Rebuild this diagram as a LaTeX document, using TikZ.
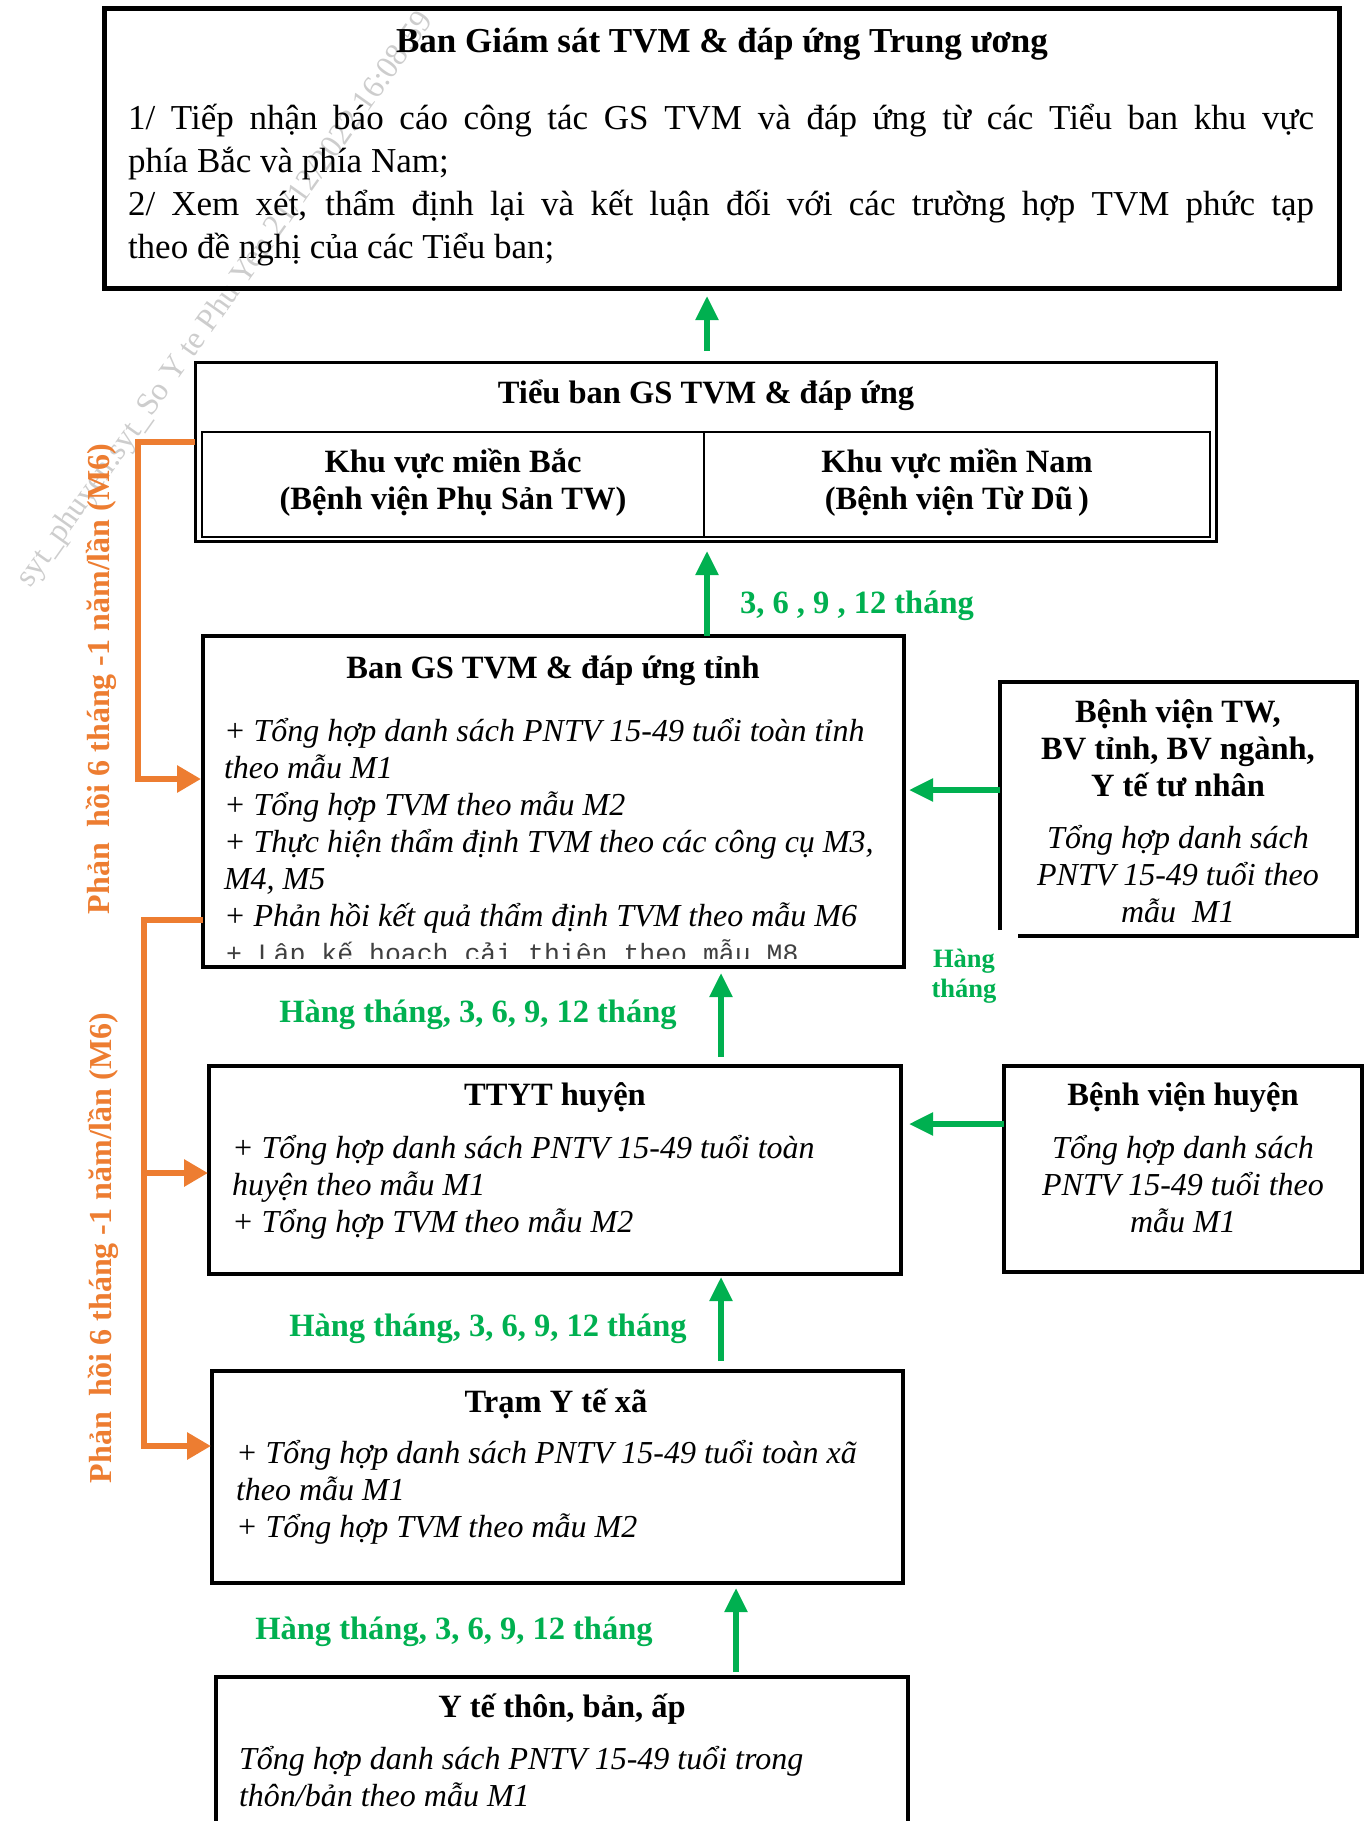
\documentclass[tikz,border=0pt]{standalone}
\usepackage{fontspec}
\setmainfont{Liberation Serif}
\newfontfamily\codefont{Liberation Mono}
\usetikzlibrary{arrows.meta}
\definecolor{flowgreen}{RGB}{0,176,80}
\definecolor{backorange}{RGB}{237,125,49}
\definecolor{markgray}{RGB}{205,205,205}
\newcommand\sizeTop{\fontsize{35}{43}\selectfont}
\newcommand\sizeBody{\fontsize{32.5}{37}\selectfont}
\newcommand\sizeItem{\fontsize{32}{37}\selectfont}
\newcommand\sizeSmall{\fontsize{26.5}{30}\selectfont}

\begin{document}
\begin{tikzpicture}[x=1pt,y=-1pt,
  frame/.style={draw=black, line width=3.5pt, inner sep=0pt, outer sep=0pt, anchor=north west},
  txt/.style={inner sep=0pt, outer sep=0pt},
  head/.style={txt, font=\sizeBody\bfseries, anchor=base},
  items/.style={txt, font=\sizeItem\itshape, anchor=base west, align=left},
  centred/.style={txt, font=\sizeItem\itshape, anchor=base, align=center},
  upflow/.style={draw=flowgreen, line width=5.5pt, -{Triangle[width=22pt,length=24pt]}},
  backflow/.style={draw=backorange, line width=6.5pt, line join=miter, -{Triangle[width=26pt,length=24pt]}},
  greenlbl/.style={txt, font=\sizeBody\bfseries, text=flowgreen, anchor=base},
  orangelbl/.style={txt, font=\fontsize{32}{37}\selectfont\bfseries, text=backorange, rotate=90}
]
\useasboundingbox (0,0) rectangle (1370,1821);
% multi-line texts are placed by the baseline of their last line

% document stamp
\node[txt, rotate=54.6, text=markgray, font=\fontsize{32}{32}\selectfont] (stamp) at (226,300)
  {syt\_phuyen.syt\_So Y te Phu Yen 21/12/2022 16:08:59};

% central board
\node[frame, line width=5pt, minimum width=1235pt, minimum height=280pt] (top) at (104,8) {};
\node[head, font=\sizeTop\bfseries] (topT) at (722,52) {Ban Giám sát TVM \& đáp ứng Trung ương};
\node[txt, font=\sizeTop, anchor=base west, align=left] (topL) at (128,258)
  {\makebox[1186pt][s]{1/ Tiếp nhận báo cáo công tác GS TVM và đáp ứng từ các Tiểu ban khu vực}\\
   phía Bắc và phía Nam;\\
   \makebox[1186pt][s]{2/ Xem xét, thẩm định lại và kết luận đối với các trường hợp TVM phức tạp}\\
   theo đề nghị của các Tiểu ban;};

% sub-committee with two regions
\node[frame, line width=3pt, minimum width=1021pt, minimum height=179pt] (tb) at (195,362) {};
\node[frame, line width=2.5pt, minimum width=1008pt, minimum height=105pt] (tbIn) at (202,432) {};
\coordinate (split) at (704,432);
\draw[line width=2pt] (split) -- (split |- tbIn.south);
\node[head] (tbT) at (706,403) {Tiểu ban GS TVM \& đáp ứng};
\node[head, align=center] (bac) at (453,509) {Khu vực miền Bắc\\(Bệnh viện Phụ Sản TW)};
\node[head, align=center] (nam) at (957,509) {Khu vực miền Nam\\(Bệnh viện Từ Dũ\,)};

% provincial board
\node[frame, minimum width=701pt, minimum height=331pt] (tinh) at (203,636) {};
\node[head] (tinhT) at (553,678) {Ban GS TVM \& đáp ứng tỉnh};
\node[items] (tinhL) at (224,926)
  {+ Tổng hợp danh sách PNTV 15-49 tuổi toàn tỉnh\\
   theo mẫu M1\\
   + Tổng hợp TVM theo mẫu M2\\
   + Thực hiện thẩm định TVM theo các công cụ M3,\\
   M4, M5\\
   + Phản hồi kết quả thẩm định TVM theo mẫu M6};
\begin{scope}
  \clip (206,930) rectangle (900,958);
  \node[txt, anchor=base west, font=\codefont\sizeSmall, text=black!75] (m8) at (226,962)
    {+ Lập kế hoạch cải thiện theo mẫu M8};
\end{scope}

% central / provincial hospitals
\node[frame, draw=none, minimum width=357pt, minimum height=254pt] (bvtw) at (1000,682) {};
\draw[line width=3.5pt] ([yshift=6pt]bvtw.south west) -- (bvtw.north west) -- (bvtw.north east)
  -- (bvtw.south east) -- ([xshift=18pt]bvtw.south west);
\node[head, align=center] (bvtwT) at (1178,796) {Bệnh viện TW,\\BV tỉnh, BV ngành,\\Y tế tư nhân};
\node[centred] (bvtwL) at (1178,922) {Tổng hợp danh sách\\PNTV 15-49 tuổi theo\\mẫu~ M1};

% district health centre
\node[frame, minimum width=692pt, minimum height=208pt] (ttyt) at (209,1066) {};
\node[head] (ttytT) at (555,1105) {TTYT huyện};
\node[items] (ttytL) at (232,1232)
  {+ Tổng hợp danh sách PNTV 15-49 tuổi toàn\\
   huyện theo mẫu M1\\
   + Tổng hợp TVM theo mẫu M2};

% district hospital
\node[frame, minimum width=358pt, minimum height=206pt] (bvh) at (1004,1066) {};
\node[head] (bvhT) at (1183,1105) {Bệnh viện huyện};
\node[centred] (bvhL) at (1183,1232) {Tổng hợp danh sách\\PNTV 15-49 tuổi theo\\mẫu M1};

% commune station
\node[frame, minimum width=691pt, minimum height=212pt] (tram) at (212,1371) {};
\node[head] (tramT) at (556,1412) {Trạm Y tế xã};
\node[items] (tramL) at (236,1537)
  {+ Tổng hợp danh sách PNTV 15-49 tuổi toàn xã\\
   theo mẫu M1\\
   + Tổng hợp TVM theo mẫu M2};

% village health workers
\node[frame, minimum width=692pt, minimum height=200pt] (thon) at (216,1677) {};
\node[head] (thonT) at (562,1717) {Y tế thôn, bản, ấp};
\node[items] (thonL) at (239,1806)
  {Tổng hợp danh sách PNTV 15-49 tuổi trong\\
   thôn/bản theo mẫu M1};

% reporting flows
\coordinate (colA) at (707,0);
\coordinate (colB) at (721,0);
\coordinate (colC) at (736,0);
\coordinate (rowA) at (0,790);
\coordinate (rowB) at (0,1124);
\draw[upflow, shorten <=11pt, shorten >=8pt] (colA |- tb.north) -- (colA |- top.south);
\draw[upflow, shorten >=10pt] (colA |- tinh.north) -- (colA |- tb.south);
\draw[upflow, shorten <=9pt, shorten >=6pt] (colB |- ttyt.north) -- (colB |- tinh.south);
\draw[upflow, shorten <=10pt, shorten >=3pt] (colB |- tram.north) -- (colB |- ttyt.south);
\draw[upflow, shorten <=5pt, shorten >=5pt] (colC |- thon.north) -- (colC |- tram.south);
\draw[upflow, shorten >=5pt] (bvtw.west |- rowA) -- (tinh.east |- rowA);
\draw[upflow, shorten >=8pt] (bvh.west |- rowB) -- (ttyt.east |- rowB);

\node[greenlbl, anchor=base west] (g0) at (740,613) {3, 6 , 9 , 12 tháng};
\node[greenlbl] (g1) at (478,1022) {Hàng tháng, 3, 6, 9, 12 tháng};
\node[greenlbl] (g2) at (488,1336) {Hàng tháng, 3, 6, 9, 12 tháng};
\node[greenlbl] (g3) at (454,1639) {Hàng tháng, 3, 6, 9, 12 tháng};
\node[greenlbl, align=center, font=\sizeSmall\bfseries] (g4) at (964,997) {Hàng\\tháng};

% feedback flows
\coordinate (o1) at (138,442);
\coordinate (o2) at (138,779);
\coordinate (o3) at (144,920);
\coordinate (o4) at (144,1173);
\coordinate (o5) at (144,1446);
\draw[backflow, shorten >=2pt] (tb.west |- o1) -- (o1) -- (o2) -- (tinh.west |- o2);
\draw[backflow, shorten >=1pt] (tinh.west |- o3) -- (o3) -- (o5) -- (tram.west |- o5);
\draw[backflow, shorten >=1pt] (o4) -- (ttyt.west |- o4);
\node[orangelbl] (fb1) at (101,679) {Phản~ hồi 6 tháng -1 năm/lần (M6)};
\node[orangelbl] (fb2) at (103,1248) {Phản~ hồi 6 tháng -1 năm/lần (M6)};
\end{tikzpicture}
\end{document}
